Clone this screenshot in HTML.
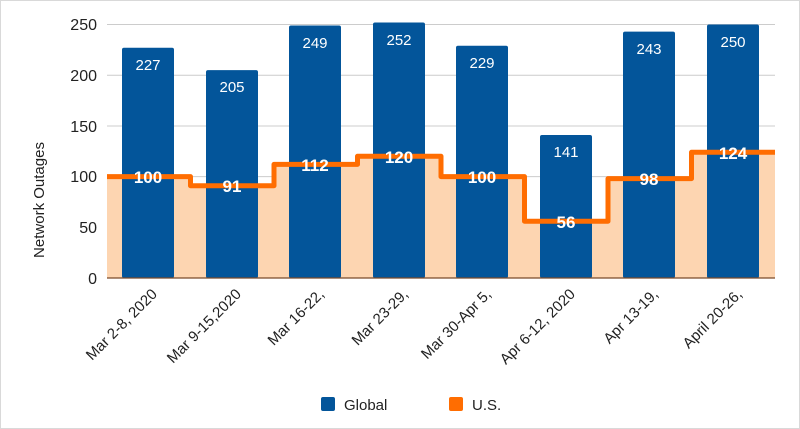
<!DOCTYPE html>
<html><head><meta charset="utf-8"><style>body{margin:0;background:#fff}svg{display:block}</style></head><body>
<svg width="800" height="429" xmlns="http://www.w3.org/2000/svg" font-family="Liberation Sans, Arial, sans-serif">
<rect x="0.5" y="0.5" width="799" height="428" fill="#fff" stroke="#d9d9d9"/>
<g stroke="#ccc" stroke-width="1">
<line x1="107" x2="775" y1="24.5" y2="24.5"/><line x1="107" x2="775" y1="75.2" y2="75.2"/><line x1="107" x2="775" y1="126" y2="126"/><line x1="107" x2="775" y1="176.6" y2="176.6"/><line x1="107" x2="775" y1="227.3" y2="227.3"/>
</g>
<g font-size="16" fill="#222" text-anchor="end">
<text x="97" y="284">0</text><text x="97" y="233">50</text><text x="97" y="182">100</text><text x="97" y="132">150</text><text x="97" y="81">200</text><text x="97" y="30">250</text>
</g>
<text transform="translate(44,200) rotate(-90)" font-size="15" fill="#222" text-anchor="middle">Network Outages</text>
<!-- area -->
<path d="M107 278 V176.6 H190.5 V185.7 H274 V164.4 H357.5 V156.3 H441 V176.6 H524.5 V221.2 H608 V178.6 H691.5 V152.3 H775 V278 Z" fill="#fdd5b1"/>
<g fill="#03559a">
<rect x="122" y="47.8" width="52" height="230.2" rx="2"/>
<rect x="206" y="70.1" width="52" height="207.9" rx="2"/>
<rect x="289" y="25.5" width="52" height="252.5" rx="2"/>
<rect x="373" y="22.5" width="52" height="255.5" rx="2"/>
<rect x="456" y="45.8" width="52" height="232.2" rx="2"/>
<rect x="540" y="135" width="52" height="143" rx="2"/>
<rect x="623" y="31.6" width="52" height="246.4" rx="2"/>
<rect x="707" y="24.5" width="52" height="253.5" rx="2"/>
</g>
<line x1="107" x2="775" y1="278" y2="278" stroke="#7a4a2a" stroke-width="1.2"/>
<path d="M107 176.6 H190.5 V185.7 H274 V164.4 H357.5 V156.3 H441 V176.6 H524.5 V221.2 H608 V178.6 H691.5 V152.3 H775" fill="none" stroke="#ff6d01" stroke-width="5" stroke-linejoin="round"/>
<g font-size="15" fill="#fff" text-anchor="middle">
<text x="148" y="70">227</text><text x="232" y="92">205</text><text x="315" y="48">249</text><text x="399" y="45">252</text><text x="482" y="68">229</text><text x="566" y="157">141</text><text x="649" y="54">243</text><text x="733" y="47">250</text>
</g>
<g font-size="17" font-weight="bold" fill="#fff" text-anchor="middle">
<text x="148" y="183">100</text><text x="232" y="192">91</text><text x="315" y="171">112</text><text x="399" y="163">120</text><text x="482" y="183">100</text><text x="566" y="228">56</text><text x="649" y="185">98</text><text x="733" y="159">124</text>
</g>
<g font-size="15" fill="#222" text-anchor="end">
<text transform="translate(158,295) rotate(-45)">Mar 2-8, 2020</text>
<text transform="translate(242,295) rotate(-45)">Mar 9-15,2020</text>
<text transform="translate(325,295) rotate(-45)">Mar 16-22,</text>
<text transform="translate(409,295) rotate(-45)">Mar 23-29,</text>
<text transform="translate(492,295) rotate(-45)">Mar 30-Apr 5,</text>
<text transform="translate(576,295) rotate(-45)">Apr 6-12, 2020</text>
<text transform="translate(659,295) rotate(-45)">Apr 13-19,</text>
<text transform="translate(743,295) rotate(-45)">April 20-26,</text>
</g>
<rect x="321" y="397" width="14" height="14" rx="2" fill="#03559a"/>
<text x="344" y="410" font-size="15" fill="#222">Global</text>
<rect x="449" y="397" width="14" height="14" rx="2" fill="#ff6d01"/>
<text x="472" y="410" font-size="15" fill="#222">U.S.</text>
</svg>
</body></html>
